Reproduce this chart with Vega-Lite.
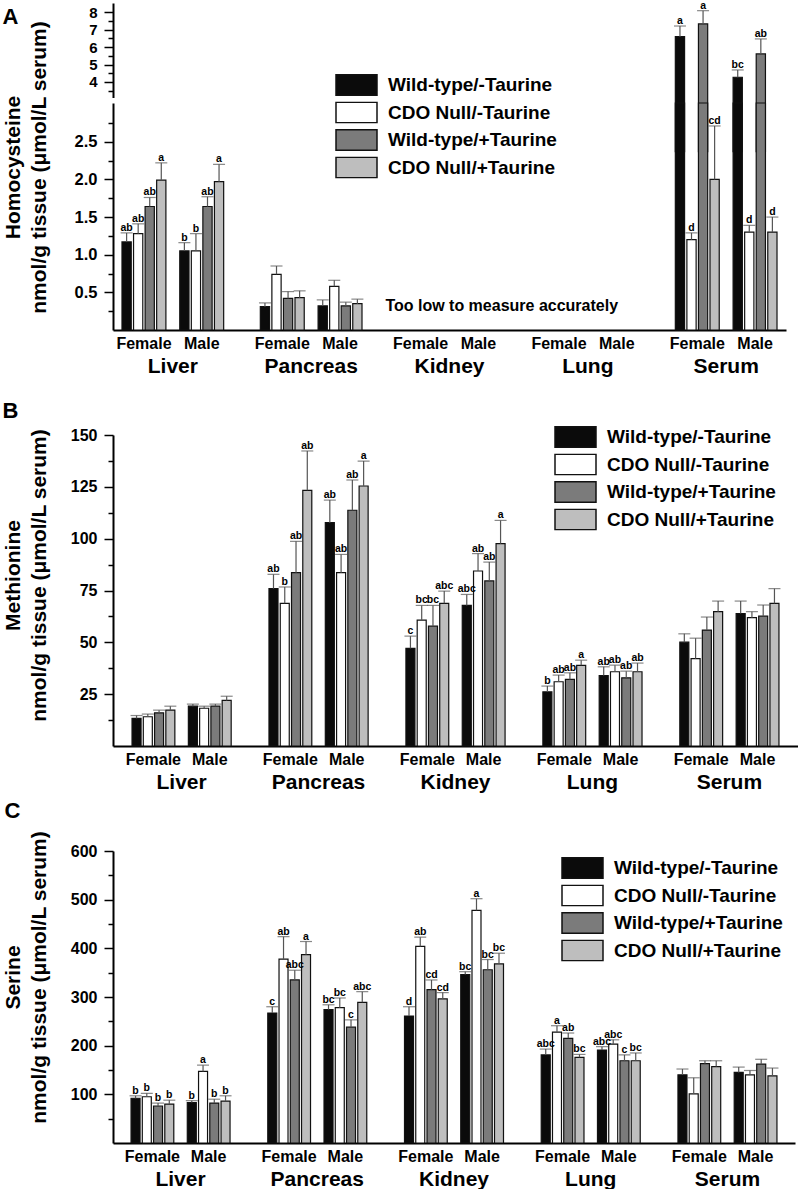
{
  "$schema": "https://vega.github.io/schema/vega-lite/v6.json",
  "background": "white",
  "padding": {"left": 2, "top": 0, "right": 0, "bottom": 0},
  "config": {
    "font": "Liberation Sans",
    "view": {"stroke": null},
    "axis": {"grid": false, "domainColor": "black", "domainWidth": 2, "tickColor": "black", "tickWidth": 1.5, "tickSize": 9, "labelColor": "black", "labelFont": "Liberation Sans", "labelFontWeight": "bold", "labelPadding": 7, "labelOverlap": false, "titleColor": "black", "titleFont": "Liberation Sans", "titleFontWeight": "bold", "titleFontSize": 21},
    "axisX": {"ticks": false, "labelAngle": 0, "labelFontSize": 21, "labelPadding": 25},
    "axisY": {"labelFontSize": 16, "titleAngle": -90, "titleAlign": "center", "titleBaseline": "bottom", "titleLineHeight": 26},
    "title": {"anchor": "start", "frame": "bounds", "fontSize": 22, "fontWeight": "bold", "font": "Liberation Sans", "color": "black", "baseline": "alphabetic"}
  },
  "datasets": {
    "organs": [{"organ": "Liver"}, {"organ": "Pancreas"}, {"organ": "Kidney"}, {"organ": "Lung"}, {"organ": "Serum"}],
    "notes": [{"organ": "Kidney", "note": "Too low to measure accurately"}],
    "hcy": [
      {"organ": "Liver", "sex": "Female", "treatment": "Wild-type/-Taurine", "value": 1.17, "upper": 1.29, "letter": "ab"},
      {"organ": "Liver", "sex": "Female", "treatment": "CDO Null/-Taurine", "value": 1.28, "upper": 1.41, "letter": "ab"},
      {"organ": "Liver", "sex": "Female", "treatment": "Wild-type/+Taurine", "value": 1.64, "upper": 1.76, "letter": "ab"},
      {"organ": "Liver", "sex": "Female", "treatment": "CDO Null/+Taurine", "value": 1.99, "upper": 2.22, "letter": "a"},
      {"organ": "Liver", "sex": "Male", "treatment": "Wild-type/-Taurine", "value": 1.05, "upper": 1.16, "letter": "b"},
      {"organ": "Liver", "sex": "Male", "treatment": "CDO Null/-Taurine", "value": 1.05, "upper": 1.28, "letter": "b"},
      {"organ": "Liver", "sex": "Male", "treatment": "Wild-type/+Taurine", "value": 1.64, "upper": 1.77, "letter": "ab"},
      {"organ": "Liver", "sex": "Male", "treatment": "CDO Null/+Taurine", "value": 1.97, "upper": 2.2, "letter": "a"},
      {"organ": "Pancreas", "sex": "Female", "treatment": "Wild-type/-Taurine", "value": 0.31, "upper": 0.36, "letter": ""},
      {"organ": "Pancreas", "sex": "Female", "treatment": "CDO Null/-Taurine", "value": 0.74, "upper": 0.85, "letter": ""},
      {"organ": "Pancreas", "sex": "Female", "treatment": "Wild-type/+Taurine", "value": 0.42, "upper": 0.51, "letter": ""},
      {"organ": "Pancreas", "sex": "Female", "treatment": "CDO Null/+Taurine", "value": 0.43, "upper": 0.52, "letter": ""},
      {"organ": "Pancreas", "sex": "Male", "treatment": "Wild-type/-Taurine", "value": 0.32, "upper": 0.4, "letter": ""},
      {"organ": "Pancreas", "sex": "Male", "treatment": "CDO Null/-Taurine", "value": 0.58, "upper": 0.66, "letter": ""},
      {"organ": "Pancreas", "sex": "Male", "treatment": "Wild-type/+Taurine", "value": 0.32, "upper": 0.37, "letter": ""},
      {"organ": "Pancreas", "sex": "Male", "treatment": "CDO Null/+Taurine", "value": 0.35, "upper": 0.41, "letter": ""},
      {"organ": "Serum", "sex": "Female", "treatment": "Wild-type/-Taurine", "value": 6.6, "upper": 7.21, "letter": "a"},
      {"organ": "Serum", "sex": "Female", "treatment": "CDO Null/-Taurine", "value": 1.2, "upper": 1.29, "letter": "d"},
      {"organ": "Serum", "sex": "Female", "treatment": "Wild-type/+Taurine", "value": 7.33, "upper": 8.09, "letter": "a"},
      {"organ": "Serum", "sex": "Female", "treatment": "CDO Null/+Taurine", "value": 2.0, "upper": 2.71, "letter": "cd"},
      {"organ": "Serum", "sex": "Male", "treatment": "Wild-type/-Taurine", "value": 4.27, "upper": 4.69, "letter": "bc"},
      {"organ": "Serum", "sex": "Male", "treatment": "CDO Null/-Taurine", "value": 1.3, "upper": 1.39, "letter": "d"},
      {"organ": "Serum", "sex": "Male", "treatment": "Wild-type/+Taurine", "value": 5.61, "upper": 6.47, "letter": "ab"},
      {"organ": "Serum", "sex": "Male", "treatment": "CDO Null/+Taurine", "value": 1.3, "upper": 1.5, "letter": "d"}
    ],
    "met": [
      {"organ": "Liver", "sex": "Female", "treatment": "Wild-type/-Taurine", "value": 13.3, "upper": 14.7, "letter": ""},
      {"organ": "Liver", "sex": "Female", "treatment": "CDO Null/-Taurine", "value": 14.1, "upper": 15.4, "letter": ""},
      {"organ": "Liver", "sex": "Female", "treatment": "Wild-type/+Taurine", "value": 16.0, "upper": 17.3, "letter": ""},
      {"organ": "Liver", "sex": "Female", "treatment": "CDO Null/+Taurine", "value": 17.3, "upper": 19.2, "letter": ""},
      {"organ": "Liver", "sex": "Male", "treatment": "Wild-type/-Taurine", "value": 19.2, "upper": 20.2, "letter": ""},
      {"organ": "Liver", "sex": "Male", "treatment": "CDO Null/-Taurine", "value": 18.2, "upper": 19.2, "letter": ""},
      {"organ": "Liver", "sex": "Male", "treatment": "Wild-type/+Taurine", "value": 19.2, "upper": 20.2, "letter": ""},
      {"organ": "Liver", "sex": "Male", "treatment": "CDO Null/+Taurine", "value": 22.0, "upper": 24.0, "letter": ""},
      {"organ": "Pancreas", "sex": "Female", "treatment": "Wild-type/-Taurine", "value": 75.9, "upper": 82.8, "letter": "ab"},
      {"organ": "Pancreas", "sex": "Female", "treatment": "CDO Null/-Taurine", "value": 68.8, "upper": 76.7, "letter": "b"},
      {"organ": "Pancreas", "sex": "Female", "treatment": "Wild-type/+Taurine", "value": 83.6, "upper": 98.7, "letter": "ab"},
      {"organ": "Pancreas", "sex": "Female", "treatment": "CDO Null/+Taurine", "value": 123.3, "upper": 142.3, "letter": "ab"},
      {"organ": "Pancreas", "sex": "Male", "treatment": "Wild-type/-Taurine", "value": 107.7, "upper": 118.6, "letter": "ab"},
      {"organ": "Pancreas", "sex": "Male", "treatment": "CDO Null/-Taurine", "value": 83.6, "upper": 92.4, "letter": "ab"},
      {"organ": "Pancreas", "sex": "Male", "treatment": "Wild-type/+Taurine", "value": 113.7, "upper": 128.3, "letter": "ab"},
      {"organ": "Pancreas", "sex": "Male", "treatment": "CDO Null/+Taurine", "value": 125.4, "upper": 137.4, "letter": "a"},
      {"organ": "Kidney", "sex": "Female", "treatment": "Wild-type/-Taurine", "value": 47.1, "upper": 53.0, "letter": "c"},
      {"organ": "Kidney", "sex": "Female", "treatment": "CDO Null/-Taurine", "value": 60.7, "upper": 67.8, "letter": "bc"},
      {"organ": "Kidney", "sex": "Female", "treatment": "Wild-type/+Taurine", "value": 57.8, "upper": 67.8, "letter": "bc"},
      {"organ": "Kidney", "sex": "Female", "treatment": "CDO Null/+Taurine", "value": 68.8, "upper": 74.7, "letter": "abc"},
      {"organ": "Kidney", "sex": "Male", "treatment": "Wild-type/-Taurine", "value": 67.8, "upper": 73.1, "letter": "abc"},
      {"organ": "Kidney", "sex": "Male", "treatment": "CDO Null/-Taurine", "value": 84.4, "upper": 92.8, "letter": "ab"},
      {"organ": "Kidney", "sex": "Male", "treatment": "Wild-type/+Taurine", "value": 79.6, "upper": 88.7, "letter": "ab"},
      {"organ": "Kidney", "sex": "Male", "treatment": "CDO Null/+Taurine", "value": 97.6, "upper": 108.8, "letter": "a"},
      {"organ": "Lung", "sex": "Female", "treatment": "Wild-type/-Taurine", "value": 26.1, "upper": 28.9, "letter": "b"},
      {"organ": "Lung", "sex": "Female", "treatment": "CDO Null/-Taurine", "value": 31.0, "upper": 34.2, "letter": "ab"},
      {"organ": "Lung", "sex": "Female", "treatment": "Wild-type/+Taurine", "value": 32.1, "upper": 35.3, "letter": "ab"},
      {"organ": "Lung", "sex": "Female", "treatment": "CDO Null/+Taurine", "value": 38.9, "upper": 41.4, "letter": "a"},
      {"organ": "Lung", "sex": "Male", "treatment": "Wild-type/-Taurine", "value": 34.0, "upper": 38.2, "letter": "ab"},
      {"organ": "Lung", "sex": "Male", "treatment": "CDO Null/-Taurine", "value": 35.8, "upper": 39.0, "letter": "ab"},
      {"organ": "Lung", "sex": "Male", "treatment": "Wild-type/+Taurine", "value": 32.9, "upper": 36.1, "letter": "ab"},
      {"organ": "Lung", "sex": "Male", "treatment": "CDO Null/+Taurine", "value": 35.8, "upper": 40.0, "letter": "ab"},
      {"organ": "Serum", "sex": "Female", "treatment": "Wild-type/-Taurine", "value": 50.1, "upper": 54.1, "letter": ""},
      {"organ": "Serum", "sex": "Female", "treatment": "CDO Null/-Taurine", "value": 42.1, "upper": 52.0, "letter": ""},
      {"organ": "Serum", "sex": "Female", "treatment": "Wild-type/+Taurine", "value": 55.9, "upper": 62.2, "letter": ""},
      {"organ": "Serum", "sex": "Female", "treatment": "CDO Null/+Taurine", "value": 64.8, "upper": 69.9, "letter": ""},
      {"organ": "Serum", "sex": "Male", "treatment": "Wild-type/-Taurine", "value": 63.9, "upper": 69.9, "letter": ""},
      {"organ": "Serum", "sex": "Male", "treatment": "CDO Null/-Taurine", "value": 61.9, "upper": 64.8, "letter": ""},
      {"organ": "Serum", "sex": "Male", "treatment": "Wild-type/+Taurine", "value": 62.6, "upper": 68.0, "letter": ""},
      {"organ": "Serum", "sex": "Male", "treatment": "CDO Null/+Taurine", "value": 68.8, "upper": 75.9, "letter": ""}
    ],
    "ser": [
      {"organ": "Liver", "sex": "Female", "treatment": "Wild-type/-Taurine", "value": 92, "upper": 97, "letter": "b"},
      {"organ": "Liver", "sex": "Female", "treatment": "CDO Null/-Taurine", "value": 95, "upper": 102, "letter": "b"},
      {"organ": "Liver", "sex": "Female", "treatment": "Wild-type/+Taurine", "value": 76, "upper": 82, "letter": "b"},
      {"organ": "Liver", "sex": "Female", "treatment": "CDO Null/+Taurine", "value": 80, "upper": 88, "letter": "b"},
      {"organ": "Liver", "sex": "Male", "treatment": "Wild-type/-Taurine", "value": 83, "upper": 87, "letter": "b"},
      {"organ": "Liver", "sex": "Male", "treatment": "CDO Null/-Taurine", "value": 147, "upper": 160, "letter": "a"},
      {"organ": "Liver", "sex": "Male", "treatment": "Wild-type/+Taurine", "value": 82, "upper": 90, "letter": "b"},
      {"organ": "Liver", "sex": "Male", "treatment": "CDO Null/+Taurine", "value": 86, "upper": 97, "letter": "b"},
      {"organ": "Pancreas", "sex": "Female", "treatment": "Wild-type/-Taurine", "value": 267, "upper": 280, "letter": "c"},
      {"organ": "Pancreas", "sex": "Female", "treatment": "CDO Null/-Taurine", "value": 378, "upper": 424, "letter": "ab"},
      {"organ": "Pancreas", "sex": "Female", "treatment": "Wild-type/+Taurine", "value": 335, "upper": 355, "letter": "abc"},
      {"organ": "Pancreas", "sex": "Female", "treatment": "CDO Null/+Taurine", "value": 387, "upper": 414, "letter": "a"},
      {"organ": "Pancreas", "sex": "Male", "treatment": "Wild-type/-Taurine", "value": 274, "upper": 284, "letter": "bc"},
      {"organ": "Pancreas", "sex": "Male", "treatment": "CDO Null/-Taurine", "value": 278, "upper": 298, "letter": "bc"},
      {"organ": "Pancreas", "sex": "Male", "treatment": "Wild-type/+Taurine", "value": 238, "upper": 253, "letter": "c"},
      {"organ": "Pancreas", "sex": "Male", "treatment": "CDO Null/+Taurine", "value": 289, "upper": 311, "letter": "abc"},
      {"organ": "Kidney", "sex": "Female", "treatment": "Wild-type/-Taurine", "value": 261, "upper": 280, "letter": "d"},
      {"organ": "Kidney", "sex": "Female", "treatment": "CDO Null/-Taurine", "value": 404, "upper": 423, "letter": "ab"},
      {"organ": "Kidney", "sex": "Female", "treatment": "Wild-type/+Taurine", "value": 315, "upper": 335, "letter": "cd"},
      {"organ": "Kidney", "sex": "Female", "treatment": "CDO Null/+Taurine", "value": 296, "upper": 309, "letter": "cd"},
      {"organ": "Kidney", "sex": "Male", "treatment": "Wild-type/-Taurine", "value": 346, "upper": 352, "letter": "bc"},
      {"organ": "Kidney", "sex": "Male", "treatment": "CDO Null/-Taurine", "value": 478, "upper": 502, "letter": "a"},
      {"organ": "Kidney", "sex": "Male", "treatment": "Wild-type/+Taurine", "value": 356, "upper": 377, "letter": "bc"},
      {"organ": "Kidney", "sex": "Male", "treatment": "CDO Null/+Taurine", "value": 368, "upper": 390, "letter": "bc"},
      {"organ": "Lung", "sex": "Female", "treatment": "Wild-type/-Taurine", "value": 181, "upper": 193, "letter": "abc"},
      {"organ": "Lung", "sex": "Female", "treatment": "CDO Null/-Taurine", "value": 228, "upper": 241, "letter": "a"},
      {"organ": "Lung", "sex": "Female", "treatment": "Wild-type/+Taurine", "value": 215, "upper": 226, "letter": "ab"},
      {"organ": "Lung", "sex": "Female", "treatment": "CDO Null/+Taurine", "value": 176, "upper": 182, "letter": "bc"},
      {"organ": "Lung", "sex": "Male", "treatment": "Wild-type/-Taurine", "value": 191, "upper": 198, "letter": "abc"},
      {"organ": "Lung", "sex": "Male", "treatment": "CDO Null/-Taurine", "value": 203, "upper": 212, "letter": "abc"},
      {"organ": "Lung", "sex": "Male", "treatment": "Wild-type/+Taurine", "value": 169, "upper": 181, "letter": "c"},
      {"organ": "Lung", "sex": "Male", "treatment": "CDO Null/+Taurine", "value": 169, "upper": 185, "letter": "bc"},
      {"organ": "Serum", "sex": "Female", "treatment": "Wild-type/-Taurine", "value": 140, "upper": 152, "letter": ""},
      {"organ": "Serum", "sex": "Female", "treatment": "CDO Null/-Taurine", "value": 101, "upper": 134, "letter": ""},
      {"organ": "Serum", "sex": "Female", "treatment": "Wild-type/+Taurine", "value": 163, "upper": 169, "letter": ""},
      {"organ": "Serum", "sex": "Female", "treatment": "CDO Null/+Taurine", "value": 157, "upper": 169, "letter": ""},
      {"organ": "Serum", "sex": "Male", "treatment": "Wild-type/-Taurine", "value": 145, "upper": 156, "letter": ""},
      {"organ": "Serum", "sex": "Male", "treatment": "CDO Null/-Taurine", "value": 140, "upper": 149, "letter": ""},
      {"organ": "Serum", "sex": "Male", "treatment": "Wild-type/+Taurine", "value": 162, "upper": 172, "letter": ""},
      {"organ": "Serum", "sex": "Male", "treatment": "CDO Null/+Taurine", "value": 138, "upper": 154, "letter": ""}
    ]
  },
  "bounds": "flush",
  "spacing": 105,
  "resolve": {"scale": {"color": "independent", "x": "independent", "xOffset": "independent", "y": "independent"}, "legend": {"color": "independent"}, "axis": {"x": "independent", "y": "independent"}},
  "vconcat": [
    {
      "width": 673,
      "height": 327,
      "title": {"text": "A", "offset": 0, "dy": 28},
      "data": {"name": "hcy"},
      "transform": [{"calculate": "datum.sex + '|' + datum.treatment", "as": "key"}],
      "encoding": {
        "x": {"field": "organ", "type": "nominal", "title": null, "scale": {"domain": ["Liver", "Pancreas", "Kidney", "Lung", "Serum"], "paddingInner": 0.265, "paddingOuter": 0.065}, "axis": {"orient": "bottom"}},
        "xOffset": {"field": "key", "type": "nominal", "scale": {"domain": ["Female|Wild-type/-Taurine", "Female|CDO Null/-Taurine", "Female|Wild-type/+Taurine", "Female|CDO Null/+Taurine", "gap", "Male|Wild-type/-Taurine", "Male|CDO Null/-Taurine", "Male|Wild-type/+Taurine", "Male|CDO Null/+Taurine"], "paddingInner": 0.2, "paddingOuter": 0}}
      },
      "layer": [
        {
          "transform": [{"filter": "datum.value > 3.11"}],
          "layer": [
            {"mark": {"type": "bar", "stroke": "#111111", "strokeWidth": 1.2},
             "encoding": {
               "y": {"field": "value", "type": "quantitative", "scale": {"domain": [3.11, 8.53], "range": [94.5, 0], "nice": false, "zero": false}, "axis": {"orient": "left", "values": [3.5, 4, 4.5, 5, 5.5, 6, 6.5, 7, 7.5, 8], "labelExpr": "datum.value % 1 == 0 ? format(datum.value, 'd') : ''", "tickSize": {"condition": {"test": "datum.value % 1 == 0", "value": 9}, "value": 5}, "labelFontSize": 15, "title": null}},
               "color": {"field": "treatment", "type": "nominal", "scale": {"domain": ["Wild-type/-Taurine", "CDO Null/-Taurine", "Wild-type/+Taurine", "CDO Null/+Taurine"], "range": ["#0b0b0b", "#ffffff", "#7b7b7b", "#bebebe"]}, "legend": {"orient": "none", "legendX": 222, "legendY": 71, "title": null, "padding": 0, "symbolType": "M-1,-0.5H1V0.5H-1Z", "symbolSize": 1681, "symbolStrokeColor": "#111111", "symbolStrokeWidth": 1.5, "symbolOpacity": 1, "labelFont": "Liberation Sans", "labelFontSize": 19, "labelFontWeight": "bold", "labelColor": "black", "labelOffset": 10, "labelLimit": 400, "clipHeight": 22, "rowPadding": 5.5}}
             }},
            {"mark": {"type": "rule", "color": "#555555", "strokeWidth": 1.2},
             "encoding": {
               "y": {"field": "value", "type": "quantitative", "scale": {"domain": [3.11, 8.53], "range": [94.5, 0], "nice": false, "zero": false}, "axis": {"orient": "left", "values": [3.5, 4, 4.5, 5, 5.5, 6, 6.5, 7, 7.5, 8], "labelExpr": "datum.value % 1 == 0 ? format(datum.value, 'd') : ''", "tickSize": {"condition": {"test": "datum.value % 1 == 0", "value": 9}, "value": 5}, "labelFontSize": 15, "title": null}},
               "y2": {"field": "upper"}
             }},
            {"mark": {"type": "tick", "color": "#555555", "size": 12, "thickness": 1.2},
             "encoding": {
               "y": {"field": "upper", "type": "quantitative", "scale": {"domain": [3.11, 8.53], "range": [94.5, 0], "nice": false, "zero": false}, "axis": {"orient": "left", "values": [3.5, 4, 4.5, 5, 5.5, 6, 6.5, 7, 7.5, 8], "labelExpr": "datum.value % 1 == 0 ? format(datum.value, 'd') : ''", "tickSize": {"condition": {"test": "datum.value % 1 == 0", "value": 9}, "value": 5}, "labelFontSize": 15, "title": null}}
             }},
            {"mark": {"type": "text", "font": "Liberation Sans Narrow, Liberation Sans", "fontSize": 10.5, "fontWeight": "bold", "color": "black", "baseline": "alphabetic", "dy": -2},
             "encoding": {
               "y": {"field": "upper", "type": "quantitative", "scale": {"domain": [3.11, 8.53], "range": [94.5, 0], "nice": false, "zero": false}, "axis": {"orient": "left", "values": [3.5, 4, 4.5, 5, 5.5, 6, 6.5, 7, 7.5, 8], "labelExpr": "datum.value % 1 == 0 ? format(datum.value, 'd') : ''", "tickSize": {"condition": {"test": "datum.value % 1 == 0", "value": 9}, "value": 5}, "labelFontSize": 15, "title": null}},
               "text": {"field": "letter"}
             }}
          ]
        },
        {
          "layer": [
            {"mark": {"type": "bar", "stroke": "#111111", "strokeWidth": 1.2},
             "encoding": {
               "y": {"field": "value", "type": "quantitative", "scale": {"domain": [0, 3.015], "range": [327, 100], "nice": false, "clamp": true}, "axis": {"orient": "left", "values": [0.25, 0.5, 0.75, 1, 1.25, 1.5, 1.75, 2, 2.25, 2.5, 2.75], "labelExpr": "round(datum.value * 4) % 2 == 0 ? format(datum.value, '.1f') : ''", "tickSize": {"condition": {"test": "round(datum.value * 4) % 2 == 0", "value": 9}, "value": 5}, "labelFontSize": 16.5, "title": ["Homocysteine", "nmol/g tissue (μmol/L serum)"], "titleX": -89.5, "titleY": 164}},
               "color": {"field": "treatment", "type": "nominal", "scale": {"domain": ["Wild-type/-Taurine", "CDO Null/-Taurine", "Wild-type/+Taurine", "CDO Null/+Taurine"], "range": ["#0b0b0b", "#ffffff", "#7b7b7b", "#bebebe"]}, "legend": {"orient": "none", "legendX": 222, "legendY": 71, "title": null, "padding": 0, "symbolType": "M-1,-0.5H1V0.5H-1Z", "symbolSize": 1681, "symbolStrokeColor": "#111111", "symbolStrokeWidth": 1.5, "symbolOpacity": 1, "labelFont": "Liberation Sans", "labelFontSize": 19, "labelFontWeight": "bold", "labelColor": "black", "labelOffset": 10, "labelLimit": 400, "clipHeight": 22, "rowPadding": 5.5}}
             }},
            {"transform": [{"filter": "datum.upper < 3"}],
             "mark": {"type": "rule", "color": "#555555", "strokeWidth": 1.2},
             "encoding": {
               "y": {"field": "value", "type": "quantitative", "scale": {"domain": [0, 3.015], "range": [327, 100], "nice": false, "clamp": true}, "axis": {"orient": "left", "values": [0.25, 0.5, 0.75, 1, 1.25, 1.5, 1.75, 2, 2.25, 2.5, 2.75], "labelExpr": "round(datum.value * 4) % 2 == 0 ? format(datum.value, '.1f') : ''", "tickSize": {"condition": {"test": "round(datum.value * 4) % 2 == 0", "value": 9}, "value": 5}, "labelFontSize": 16.5, "title": ["Homocysteine", "nmol/g tissue (μmol/L serum)"], "titleX": -89.5, "titleY": 164}},
               "y2": {"field": "upper"}
             }},
            {"transform": [{"filter": "datum.upper < 3"}],
             "mark": {"type": "tick", "color": "#555555", "size": 12, "thickness": 1.2},
             "encoding": {
               "y": {"field": "upper", "type": "quantitative", "scale": {"domain": [0, 3.015], "range": [327, 100], "nice": false, "clamp": true}, "axis": {"orient": "left", "values": [0.25, 0.5, 0.75, 1, 1.25, 1.5, 1.75, 2, 2.25, 2.5, 2.75], "labelExpr": "round(datum.value * 4) % 2 == 0 ? format(datum.value, '.1f') : ''", "tickSize": {"condition": {"test": "round(datum.value * 4) % 2 == 0", "value": 9}, "value": 5}, "labelFontSize": 16.5, "title": ["Homocysteine", "nmol/g tissue (μmol/L serum)"], "titleX": -89.5, "titleY": 164}}
             }},
            {"transform": [{"filter": "datum.upper < 3"}],
             "mark": {"type": "text", "font": "Liberation Sans Narrow, Liberation Sans", "fontSize": 10.5, "fontWeight": "bold", "color": "black", "baseline": "alphabetic", "dy": -2},
             "encoding": {
               "y": {"field": "upper", "type": "quantitative", "scale": {"domain": [0, 3.015], "range": [327, 100], "nice": false, "clamp": true}, "axis": {"orient": "left", "values": [0.25, 0.5, 0.75, 1, 1.25, 1.5, 1.75, 2, 2.25, 2.5, 2.75], "labelExpr": "round(datum.value * 4) % 2 == 0 ? format(datum.value, '.1f') : ''", "tickSize": {"condition": {"test": "round(datum.value * 4) % 2 == 0", "value": 9}, "value": 5}, "labelFontSize": 16.5, "title": ["Homocysteine", "nmol/g tissue (μmol/L serum)"], "titleX": -89.5, "titleY": 164}},
               "text": {"field": "letter"}
             }},
            {"data": {"name": "notes"},
             "mark": {"type": "text", "fontSize": 16, "fontWeight": "bold", "color": "black", "baseline": "middle", "dx": 6},
             "encoding": {
               "xOffset": {"datum": "Male|CDO Null/+Taurine"},
               "y": {"datum": 0.32, "type": "quantitative", "scale": {"domain": [0, 3.015], "range": [327, 100], "nice": false, "clamp": true}, "axis": {"orient": "left", "values": [0.25, 0.5, 0.75, 1, 1.25, 1.5, 1.75, 2, 2.25, 2.5, 2.75], "labelExpr": "round(datum.value * 4) % 2 == 0 ? format(datum.value, '.1f') : ''", "tickSize": {"condition": {"test": "round(datum.value * 4) % 2 == 0", "value": 9}, "value": 5}, "labelFontSize": 16.5, "title": ["Homocysteine", "nmol/g tissue (μmol/L serum)"], "titleX": -89.5, "titleY": 164}},
               "text": {"field": "note"}
             }}
          ]
        },
        {"data": {"name": "organs"},
         "mark": {"type": "text", "text": "Female", "y": "height", "dy": 6, "dx": 5.8, "baseline": "top", "fontSize": 16, "fontWeight": "bold", "color": "black"},
         "encoding": {"xOffset": {"datum": "Female|CDO Null/-Taurine"}}},
        {"data": {"name": "organs"},
         "mark": {"type": "text", "text": "Male", "y": "height", "dy": 6, "dx": 5.8, "baseline": "top", "fontSize": 16, "fontWeight": "bold", "color": "black"},
         "encoding": {"xOffset": {"datum": "Male|CDO Null/-Taurine"}}}
      ],
      "resolve": {"scale": {"y": "independent"}, "axis": {"y": "independent"}}
    },
    {
      "width": 685,
      "height": 311,
      "title": {"text": "B", "offset": 3.5},
      "data": {"name": "met"},
      "transform": [{"calculate": "datum.sex + '|' + datum.treatment", "as": "key"}],
      "encoding": {
        "x": {"field": "organ", "type": "nominal", "title": "C", "scale": {"domain": ["Liver", "Pancreas", "Kidney", "Lung", "Serum"], "paddingInner": 0.276, "paddingOuter": 0.139}, "axis": {"orient": "bottom", "titleX": -109, "titleY": 71.5, "titleAlign": "left", "titleBaseline": "alphabetic", "titleAngle": 0, "titleFontSize": 22}},
        "xOffset": {"field": "key", "type": "nominal", "scale": {"domain": ["Female|Wild-type/-Taurine", "Female|CDO Null/-Taurine", "Female|Wild-type/+Taurine", "Female|CDO Null/+Taurine", "gap", "Male|Wild-type/-Taurine", "Male|CDO Null/-Taurine", "Male|Wild-type/+Taurine", "Male|CDO Null/+Taurine"], "paddingInner": 0.2, "paddingOuter": 0}},
        "y": {"field": "value", "type": "quantitative", "scale": {"domain": [0, 150], "nice": false}, "axis": {"values": [12.5, 25, 37.5, 50, 62.5, 75, 87.5, 100, 112.5, 125, 137.5, 150], "labelExpr": "datum.value % 25 == 0 ? format(datum.value, 'd') : ''", "tickSize": {"condition": {"test": "datum.value % 25 == 0", "value": 9}, "value": 5}, "title": ["Methionine", "nmol/g tissue (μmol/L serum)"], "titleX": -89.5, "titleY": 140}}
      },
      "layer": [
        {"mark": {"type": "bar", "stroke": "#111111", "strokeWidth": 1.2},
         "encoding": {
           "color": {"field": "treatment", "type": "nominal", "scale": {"domain": ["Wild-type/-Taurine", "CDO Null/-Taurine", "Wild-type/+Taurine", "CDO Null/+Taurine"], "range": ["#0b0b0b", "#ffffff", "#7b7b7b", "#bebebe"]}, "legend": {"orient": "none", "legendX": 441, "legendY": -9, "title": null, "padding": 0, "symbolType": "M-1,-0.5H1V0.5H-1Z", "symbolSize": 1681, "symbolStrokeColor": "#111111", "symbolStrokeWidth": 1.5, "symbolOpacity": 1, "labelFont": "Liberation Sans", "labelFontSize": 19, "labelFontWeight": "bold", "labelColor": "black", "labelOffset": 10, "labelLimit": 400, "clipHeight": 22, "rowPadding": 5.5}}
         }},
        {"mark": {"type": "rule", "color": "#555555", "strokeWidth": 1.2},
         "encoding": {"y2": {"field": "upper"}}},
        {"mark": {"type": "tick", "color": "#555555", "size": 12, "thickness": 1.2},
         "encoding": {"y": {"field": "upper", "type": "quantitative", "scale": {"domain": [0, 150], "nice": false}, "axis": {"values": [12.5, 25, 37.5, 50, 62.5, 75, 87.5, 100, 112.5, 125, 137.5, 150], "labelExpr": "datum.value % 25 == 0 ? format(datum.value, 'd') : ''", "tickSize": {"condition": {"test": "datum.value % 25 == 0", "value": 9}, "value": 5}, "title": ["Methionine", "nmol/g tissue (μmol/L serum)"], "titleX": -89.5, "titleY": 140}}}},
        {"mark": {"type": "text", "font": "Liberation Sans Narrow, Liberation Sans", "fontSize": 10.5, "fontWeight": "bold", "color": "black", "baseline": "alphabetic", "dy": -2},
         "encoding": {"y": {"field": "upper", "type": "quantitative", "scale": {"domain": [0, 150], "nice": false}, "axis": {"values": [12.5, 25, 37.5, 50, 62.5, 75, 87.5, 100, 112.5, 125, 137.5, 150], "labelExpr": "datum.value % 25 == 0 ? format(datum.value, 'd') : ''", "tickSize": {"condition": {"test": "datum.value % 25 == 0", "value": 9}, "value": 5}, "title": ["Methionine", "nmol/g tissue (μmol/L serum)"], "titleX": -89.5, "titleY": 140}}, "text": {"field": "letter"}}},
        {"data": {"name": "organs"},
         "mark": {"type": "text", "text": "Female", "y": "height", "dy": 6, "dx": 5.6, "baseline": "top", "fontSize": 16, "fontWeight": "bold", "color": "black"},
         "encoding": {"xOffset": {"datum": "Female|CDO Null/-Taurine"}, "y": null}},
        {"data": {"name": "organs"},
         "mark": {"type": "text", "text": "Male", "y": "height", "dy": 6, "dx": 5.6, "baseline": "top", "fontSize": 16, "fontWeight": "bold", "color": "black"},
         "encoding": {"xOffset": {"datum": "Male|CDO Null/-Taurine"}, "y": null}}
      ]
    },
    {
      "width": 682,
      "height": 292,
      "data": {"name": "ser"},
      "transform": [{"calculate": "datum.sex + '|' + datum.treatment", "as": "key"}],
      "encoding": {
        "x": {"field": "organ", "type": "nominal", "title": null, "scale": {"domain": ["Liver", "Pancreas", "Kidney", "Lung", "Serum"], "paddingInner": 0.276, "paddingOuter": 0.132}, "axis": {"orient": "bottom"}},
        "xOffset": {"field": "key", "type": "nominal", "scale": {"domain": ["Female|Wild-type/-Taurine", "Female|CDO Null/-Taurine", "Female|Wild-type/+Taurine", "Female|CDO Null/+Taurine", "gap", "Male|Wild-type/-Taurine", "Male|CDO Null/-Taurine", "Male|Wild-type/+Taurine", "Male|CDO Null/+Taurine"], "paddingInner": 0.2, "paddingOuter": 0}},
        "y": {"field": "value", "type": "quantitative", "scale": {"domain": [0, 600], "nice": false}, "axis": {"values": [50, 100, 150, 200, 250, 300, 350, 400, 450, 500, 550, 600], "labelExpr": "datum.value % 100 == 0 ? format(datum.value, 'd') : ''", "tickSize": {"condition": {"test": "datum.value % 100 == 0", "value": 9}, "value": 5}, "title": ["Serine", "nmol/g tissue (μmol/L serum)"], "titleX": -89.5, "titleY": 126}}
      },
      "layer": [
        {"mark": {"type": "bar", "stroke": "#111111", "strokeWidth": 1.2},
         "encoding": {
           "color": {"field": "treatment", "type": "nominal", "scale": {"domain": ["Wild-type/-Taurine", "CDO Null/-Taurine", "Wild-type/+Taurine", "CDO Null/+Taurine"], "range": ["#0b0b0b", "#ffffff", "#7b7b7b", "#bebebe"]}, "legend": {"orient": "none", "legendX": 448, "legendY": 6, "title": null, "padding": 0, "symbolType": "M-1,-0.5H1V0.5H-1Z", "symbolSize": 1681, "symbolStrokeColor": "#111111", "symbolStrokeWidth": 1.5, "symbolOpacity": 1, "labelFont": "Liberation Sans", "labelFontSize": 19, "labelFontWeight": "bold", "labelColor": "black", "labelOffset": 10, "labelLimit": 400, "clipHeight": 22, "rowPadding": 5.5}}
         }},
        {"mark": {"type": "rule", "color": "#555555", "strokeWidth": 1.2},
         "encoding": {"y2": {"field": "upper"}}},
        {"mark": {"type": "tick", "color": "#555555", "size": 12, "thickness": 1.2},
         "encoding": {"y": {"field": "upper", "type": "quantitative", "scale": {"domain": [0, 600], "nice": false}, "axis": {"values": [50, 100, 150, 200, 250, 300, 350, 400, 450, 500, 550, 600], "labelExpr": "datum.value % 100 == 0 ? format(datum.value, 'd') : ''", "tickSize": {"condition": {"test": "datum.value % 100 == 0", "value": 9}, "value": 5}, "title": ["Serine", "nmol/g tissue (μmol/L serum)"], "titleX": -89.5, "titleY": 126}}}},
        {"mark": {"type": "text", "font": "Liberation Sans Narrow, Liberation Sans", "fontSize": 10.5, "fontWeight": "bold", "color": "black", "baseline": "alphabetic", "dy": -2},
         "encoding": {"y": {"field": "upper", "type": "quantitative", "scale": {"domain": [0, 600], "nice": false}, "axis": {"values": [50, 100, 150, 200, 250, 300, 350, 400, 450, 500, 550, 600], "labelExpr": "datum.value % 100 == 0 ? format(datum.value, 'd') : ''", "tickSize": {"condition": {"test": "datum.value % 100 == 0", "value": 9}, "value": 5}, "title": ["Serine", "nmol/g tissue (μmol/L serum)"], "titleX": -89.5, "titleY": 126}}, "text": {"field": "letter"}}},
        {"data": {"name": "organs"},
         "mark": {"type": "text", "text": "Female", "y": "height", "dy": 6, "dx": 5.6, "baseline": "top", "fontSize": 16, "fontWeight": "bold", "color": "black"},
         "encoding": {"xOffset": {"datum": "Female|CDO Null/-Taurine"}, "y": null}},
        {"data": {"name": "organs"},
         "mark": {"type": "text", "text": "Male", "y": "height", "dy": 6, "dx": 5.6, "baseline": "top", "fontSize": 16, "fontWeight": "bold", "color": "black"},
         "encoding": {"xOffset": {"datum": "Male|CDO Null/-Taurine"}, "y": null}}
      ]
    }
  ]
}
